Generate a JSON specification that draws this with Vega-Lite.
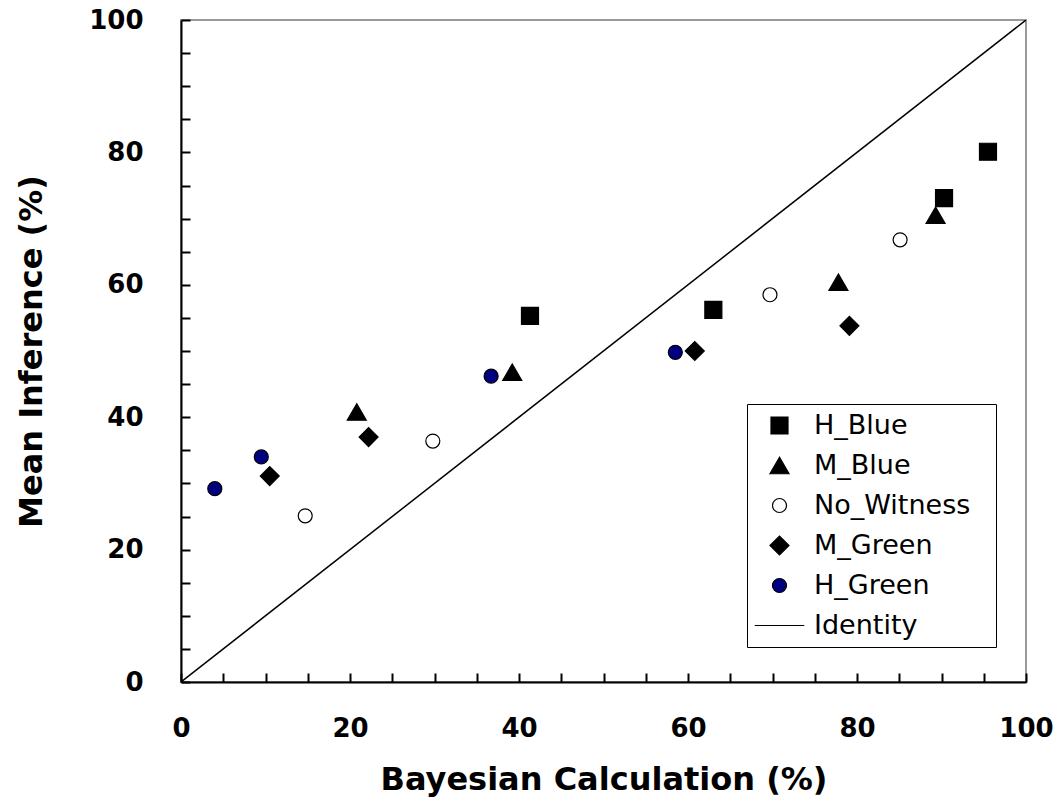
{
  "$schema": "https://vega.github.io/schema/vega-lite/v6.json",
  "autosize": {"type": "none"},
  "padding": {"left": 181, "top": 20, "right": 27, "bottom": 120},
  "width": 845,
  "height": 662,
  "background": "white",
  "datasets": {
    "points": [
      {"series": "H_Blue", "bayes": 41.3, "inference": 55.3},
      {"series": "H_Blue", "bayes": 63.0, "inference": 56.2},
      {"series": "H_Blue", "bayes": 90.3, "inference": 73.1},
      {"series": "H_Blue", "bayes": 95.5, "inference": 80.1},
      {"series": "M_Blue", "bayes": 20.8, "inference": 40.8},
      {"series": "M_Blue", "bayes": 39.2, "inference": 46.8},
      {"series": "M_Blue", "bayes": 77.8, "inference": 60.4},
      {"series": "M_Blue", "bayes": 89.3, "inference": 70.5},
      {"series": "No_Witness", "bayes": 14.7, "inference": 25.1},
      {"series": "No_Witness", "bayes": 29.8, "inference": 36.4},
      {"series": "No_Witness", "bayes": 69.7, "inference": 58.5},
      {"series": "No_Witness", "bayes": 85.1, "inference": 66.8},
      {"series": "M_Green", "bayes": 10.5, "inference": 31.1},
      {"series": "M_Green", "bayes": 22.2, "inference": 37.0},
      {"series": "M_Green", "bayes": 60.8, "inference": 50.0},
      {"series": "M_Green", "bayes": 79.1, "inference": 53.8},
      {"series": "H_Green", "bayes": 4.0, "inference": 29.2},
      {"series": "H_Green", "bayes": 9.5, "inference": 34.0},
      {"series": "H_Green", "bayes": 36.7, "inference": 46.2},
      {"series": "H_Green", "bayes": 58.5, "inference": 49.8}
    ],
    "identity": [
      {"bayes": 0, "inference": 0},
      {"bayes": 100, "inference": 100}
    ]
  },
  "config": {
    "view": {"stroke": "#999999", "strokeWidth": 2},
    "axis": {
      "grid": false,
      "domainColor": "black",
      "domainWidth": 2,
      "tickColor": "black",
      "tickWidth": 2,
      "tickSize": -9,
      "labelFlush": false,
      "labelFont": "DejaVu Sans",
      "labelFontWeight": "bold",
      "labelFontSize": 26,
      "labelColor": "black",
      "titleFont": "DejaVu Sans",
      "titleFontWeight": "bold",
      "titleFontSize": 32,
      "titleColor": "black",
      "values": [0, 10, 20, 30, 40, 50, 60, 70, 80, 90, 100],
      "labelExpr": "datum.value % 20 == 0 ? datum.label : ''"
    },
    "legend": {
      "labelFont": "DejaVu Sans",
      "labelFontSize": 27,
      "labelColor": "black"
    }
  },
  "layer": [
    {
      "data": {"name": "identity"},
      "mark": {"type": "line", "color": "black", "strokeWidth": 1.5, "clip": true},
      "encoding": {
        "x": {"field": "bayes", "type": "quantitative"},
        "y": {"field": "inference", "type": "quantitative"}
      }
    },
    {
      "data": {"name": "points"},
      "mark": {"type": "point", "filled": true, "stroke": "black", "strokeWidth": 1.2, "opacity": 1},
      "encoding": {
        "x": {
          "field": "bayes",
          "type": "quantitative",
          "scale": {"domain": [0, 100], "nice": false},
          "axis": {"title": "Bayesian Calculation (%)", "labelPadding": 42, "titlePadding": 23}
        },
        "y": {
          "field": "inference",
          "type": "quantitative",
          "scale": {"domain": [0, 100], "nice": false},
          "axis": {"title": "Mean Inference (%)", "labelPadding": 47, "titlePadding": 40}
        },
        "shape": {
          "field": "series",
          "type": "nominal",
          "scale": {
            "domain": ["H_Blue", "M_Blue", "No_Witness", "M_Green", "H_Green", "Identity"],
            "range": ["square", "triangle-up", "circle", "diamond", "circle", "M-3.5,0L3.5,0"]
          },
          "legend": {
            "title": " ",
            "titleOrient": "right",
            "titlePadding": 18,
            "orient": "none",
            "legendX": 566,
            "legendY": 384,
            "strokeColor": "black",
            "padding": 8,
            "rowPadding": 12,
            "symbolOffset": 11,
            "labelOffset": 21,
            "symbolStrokeWidth": 1.2,
            "encode": {"legend": {"update": {"strokeWidth": {"value": 2}}}}
          }
        },
        "fill": {
          "field": "series",
          "type": "nominal",
          "scale": {
            "domain": ["H_Blue", "M_Blue", "No_Witness", "M_Green", "H_Green", "Identity"],
            "range": ["black", "black", "white", "black", "#000080", "transparent"]
          }
        },
        "size": {
          "field": "series",
          "type": "nominal",
          "scale": {
            "type": "ordinal",
            "domain": ["H_Blue", "M_Blue", "No_Witness", "M_Green", "H_Green", "Identity"],
            "range": [289, 361, 196, 361, 196, 200]
          }
        }
      }
    }
  ]
}
